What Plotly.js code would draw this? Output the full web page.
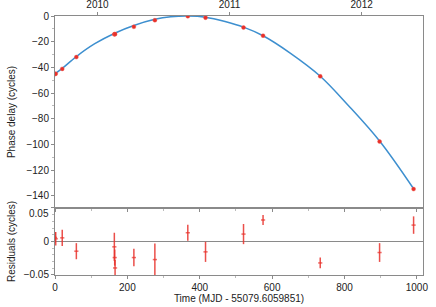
<!DOCTYPE html>
<html>
<head>
<meta charset="utf-8">
<script src="https://cdn.plot.ly/plotly-3.0.1.min.js"></script>
<style>html,body{margin:0;padding:0;background:#fff;}#chart{width:436px;height:307px;}</style>
</head>
<body>
<div id="chart"></div>
<script>
// Observation times (MJD - 55079.6059851)
var times = [0, 2, 20, 59, 164, 165, 166, 218, 276, 367, 416, 521, 575, 733, 897, 991];
// Phase delay (cycles)
var phase = [-45.2, -45.0, -41.2, -32.0, -14.3, -14.2, -14.1, -8.4, -3.3, -0.2, -1.3, -9.0, -15.3, -47.0, -97.8, -134.8];
// Residuals (cycles) and their uncertainties
var resid = [0.006, 0.004, 0.0054, -0.0145, -0.008, -0.024, -0.0395, -0.024, -0.027, 0.013, -0.0155, 0.011, 0.032, -0.032, -0.0165, 0.0244];
var residErr = [0.008, 0.01, 0.012, 0.012, 0.021, 0.012, 0.012, 0.013, 0.024, 0.012, 0.015, 0.015, 0.0075, 0.008, 0.014, 0.013];
// Fitted model curve
var modelT = [0, 20, 59, 110, 165, 218, 276, 320, 367, 416, 470, 521, 575, 650, 733, 810, 897, 991];
var modelY = [-45.0, -40.8, -31.6, -21.6, -13.4, -7.4, -2.6, -0.6, 0, -0.9, -4.3, -8.7, -15.4, -28.9, -46.9, -69.5, -97.4, -134.6];
// Calendar year ticks
var yearPos = [117.4, 482.4, 847.4];
var yearText = ['2010', '2011', '2012'];

var red = '#e8302a';
var blue = '#3d8fcf';
var axisCol = '#8a8a8a';
var font = {family: 'Liberation Sans, Arial, sans-serif', size: 10, color: '#222'};

var traces = [
  {x: modelT, y: modelY, type: 'scatter', mode: 'lines', line: {color: blue, width: 1.5, shape: 'spline'}, xaxis: 'x', yaxis: 'y', hoverinfo: 'skip'},
  {x: times, y: phase, type: 'scatter', mode: 'markers', marker: {color: red, size: 4, line: {color: 'rgba(240,90,80,0.4)', width: 1}}, xaxis: 'x', yaxis: 'y'},
  {x: times, y: resid, type: 'scatter', mode: 'markers', marker: {symbol: 'line-ew', size: 3, color: red, line: {color: 'rgba(232,48,42,0.7)', width: 1.5}},
   error_y: {type: 'data', array: residErr, visible: true, color: 'rgba(232,48,42,0.85)', thickness: 1.5, width: 0}, xaxis: 'x2', yaxis: 'y2'},
  {x: [yearPos[0]], y: [0], type: 'scatter', mode: 'markers', marker: {opacity: 0}, xaxis: 'x3', yaxis: 'y', hoverinfo: 'skip'}
];

var xr = [0, 1017];
var layout = {
  width: 436, height: 307,
  margin: {l: 55, r: 13, t: 16, b: 32},
  paper_bgcolor: '#fff', plot_bgcolor: '#fff',
  showlegend: false,
  font: font,
  xaxis: {domain: [0, 1], range: xr, anchor: 'y', showline: true, linecolor: axisCol, linewidth: 1, showgrid: false, zeroline: false,
          ticks: 'outside', ticklen: 3, tickcolor: axisCol, dtick: 200, showticklabels: false,
          minor: {ticks: 'outside', ticklen: 2, dtick: 100, tickcolor: '#bbb'}},
  xaxis3: {overlaying: 'x', side: 'top', anchor: 'y', range: xr, showline: true, linecolor: axisCol, linewidth: 1, showgrid: false, zeroline: false,
           tickmode: 'array', tickvals: yearPos, ticktext: yearText, ticks: 'outside', ticklen: 3, tickcolor: axisCol, tickfont: font},
  yaxis: {domain: [0.259, 1], range: [-149.5, 0], showline: true, mirror: true, linecolor: axisCol, linewidth: 1, showgrid: false, zeroline: false,
          ticks: 'outside', ticklen: 3, tickcolor: axisCol, dtick: 20, tickfont: font,
          minor: {ticks: 'outside', ticklen: 2, dtick: 10, tickcolor: '#bbb'},
          title: {text: 'Phase delay (cycles)', font: font, standoff: 8}},
  xaxis2: {domain: [0, 1], range: xr, anchor: 'y2', showline: true, mirror: true, linecolor: axisCol, linewidth: 1, showgrid: false, zeroline: false,
           ticks: 'outside', ticklen: 3, tickcolor: axisCol, dtick: 200, tickfont: font,
           minor: {ticks: 'outside', ticklen: 2, dtick: 100, tickcolor: '#bbb'},
           title: {text: 'Time (MJD - 55079.6059851)', font: font, standoff: 1}},
  yaxis2: {domain: [0, 0.259], range: [-0.05, 0.05], showline: true, mirror: true, linecolor: axisCol, linewidth: 1, showgrid: false,
           zeroline: true, zerolinecolor: axisCol, zerolinewidth: 1,
           tickmode: 'array', tickvals: [-0.05, 0, 0.05], ticktext: ['\u22120.05', '0', ''], ticks: 'outside', ticklen: 3, tickcolor: axisCol, tickfont: font,
           minor: {ticks: 'outside', ticklen: 2, dtick: 0.01, tickcolor: '#bbb'},
           title: {text: 'Residuals (cycles)', font: font, standoff: 6}},
  annotations: [
    {text: '0.05', xref: 'paper', yref: 'y2', x: 0, y: 0.041, xanchor: 'right', yanchor: 'middle', xshift: -4, showarrow: false, font: font}
  ]
};

Plotly.newPlot('chart', traces, layout, {displayModeBar: false, staticPlot: true});
</script>
</body>
</html>
